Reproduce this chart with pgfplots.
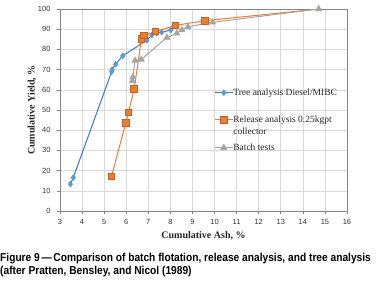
\documentclass[border=0pt]{standalone}
\usepackage{pgfplots}
\pgfplotsset{compat=1.18}
\usepackage{fontspec}
\usepackage{graphicx}
\setmainfont{Liberation Serif}
\setsansfont{Liberation Sans}
\definecolor{cblue}{HTML}{3A78C0}
\definecolor{cblueM}{HTML}{5B9BD5}
\definecolor{corange}{HTML}{ED7D31}
\definecolor{cgray}{HTML}{A5A5A5}
\definecolor{caxis}{HTML}{868686}
\definecolor{cgrid}{HTML}{D9D9D9}
\begin{document}
\begin{tikzpicture}[x=1pt,y=1pt]
\useasboundingbox (0,0) rectangle (376,282);
\begin{axis}[
  at={(60pt,71pt)}, anchor=south west,
  scale only axis, width=287pt, height=202pt,
  xmin=3, xmax=16, ymin=0, ymax=100,
  xtick={3,4,...,16}, ytick={0,10,...,100},
  grid=major, grid style={cgrid, line width=0.6pt},
  axis line style={caxis, line width=0.9pt},
  tick align=outside, major tick length=3pt,
  tick style={caxis, line width=0.6pt},
  xtick pos=bottom, ytick pos=left,
  /pgf/number format/assume math mode=true,
  tick label style={font=\sffamily\fontsize{7.5}{8}\selectfont, text=black!80},
  xticklabel style={yshift=-2pt},
  yticklabel style={xshift=-3pt},
  xlabel={Cumulative Ash, \%},
  ylabel={Cumulative Yield, \%},
  label style={font=\bfseries\fontsize{10}{12}\selectfont, text=black!85},
  xlabel style={at={(axis description cs:0.5,0)}, anchor=center, yshift=-25pt},
  ylabel style={at={(axis description cs:-0.0976,0.5)}, anchor=center},
  legend style={draw=none, fill=none, at={(0.537,0.605)}, anchor=north west,
    font=\fontsize{9.5}{11}\selectfont, inner sep=0pt, row sep=0pt,
    nodes={inner sep=0pt, text=black!85}, cells={anchor=base west}},
  legend image code/.code={
    \draw[mark repeat=2,mark phase=2] plot coordinates {(0pt,2.8pt) (9pt,2.8pt) (18pt,2.8pt)};
  },
]
\addplot[cblue, line width=1pt, mark=diamond*, mark size=2.6pt, mark options={fill=cblueM, draw=cblueM}]
coordinates {(3.47,13.3) (3.6,16.5) (5.34,69.0) (5.36,70.0) (5.52,72.7) (5.84,76.8) (6.93,84.5) (7.16,87.1) (7.39,88.0) (7.61,88.5) (8.02,89.6)};
\addlegendentry{Tree analysis Diesel/MIBC}
\addplot[corange, line width=1pt, no marks, forget plot]
coordinates {(9.56,94.2) (14.72,100)};
\addplot[corange, line width=1pt, mark=square*, mark size=3.3pt, mark options={fill=corange, draw=corange!80!black}]
coordinates {(5.33,17.0) (5.98,43.6) (6.1,48.7) (6.36,60.4) (6.69,85.2) (6.81,86.8) (7.32,88.8) (8.23,91.9) (9.56,94.2)};
\addlegendentry{\rule{0pt}{25.5pt}Release analysis 0.25kgpt}
\addlegendimage{empty legend}
\addlegendentry{\rule{0pt}{10.6pt}collector}
\addplot[cgray, line width=1pt, mark=triangle*, mark size=3.2pt, mark options={fill=cgray, draw=cgray}]
coordinates {(6.28,64.5) (6.3,66.3) (6.4,74.5) (6.68,75.0) (7.84,85.9) (8.29,88.0) (8.52,89.6) (8.79,91.2) (9.91,93.4) (14.72,100)};
\addlegendentry{\rule{0pt}{14.5pt}Batch tests}
\end{axis}
\node[anchor=west, inner sep=0pt, font=\sffamily\bfseries\fontsize{11.5}{13}\selectfont] at (0,23.5) {\scalebox{0.887}[1]{Figure 9\,---\,Comparison of batch flotation, release analysis, and tree analysis}};
\node[anchor=west, inner sep=0pt, font=\sffamily\bfseries\fontsize{11.5}{13}\selectfont] at (0,10.5) {\scalebox{0.887}[1]{(after Pratten, Bensley, and Nicol (1989)}};
\end{tikzpicture}
\end{document}
